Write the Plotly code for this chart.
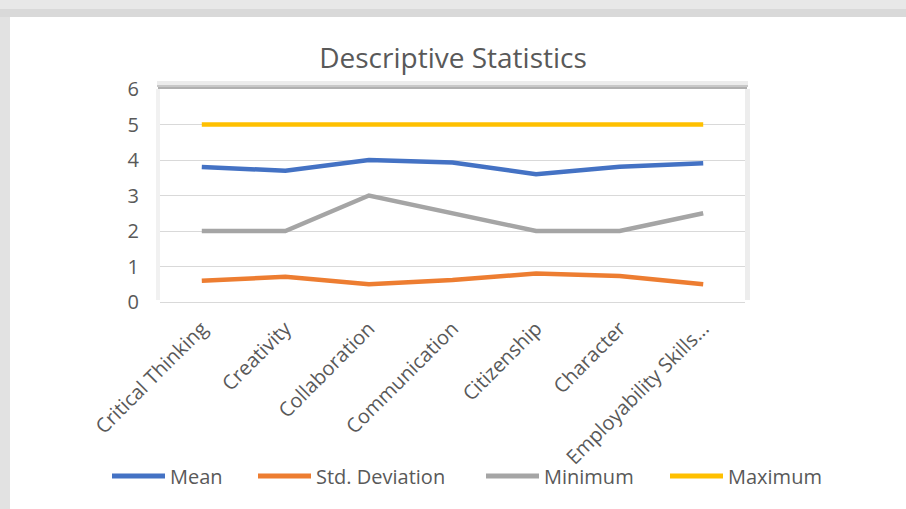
import plotly.graph_objects as go

categories = ["Critical Thinking", "Creativity", "Collaboration", "Communication",
              "Citizenship", "Character", "Employability Skills..."]
mean_vals = [3.80, 3.70, 4.00, 3.93, 3.60, 3.81, 3.91]
std_vals = [0.60, 0.71, 0.50, 0.62, 0.80, 0.73, 0.50]
min_vals = [2.0, 2.0, 3.0, 2.5, 2.0, 2.0, 2.5]
max_vals = [5.0, 5.0, 5.0, 5.0, 5.0, 5.0, 5.0]
y_ticks = [0, 1, 2, 3, 4, 5, 6]

series_names = ["Mean", "Std. Deviation", "Minimum", "Maximum"]
series_vals = [mean_vals, std_vals, min_vals, max_vals]
series_colors = ["#4472C4", "#ED7D31", "#A5A5A5", "#FFC000"]

FONT = "Open Sans"
TXT = "#595959"

W, H = 906, 509
L, R, T, B = 160, 161, 89, 207


def px_x(p):
    return (p - L) / (W - L - R)


def px_y(p):
    return (H - B - p) / (H - T - B)


fig = go.Figure()
for name, vals, col in zip(series_names, series_vals, series_colors):
    fig.add_trace(go.Scatter(x=categories, y=vals, mode="lines", name=name,
                             line=dict(color=col, width=4.5), showlegend=False))

shapes = [
    # outer frame (screenshot border)
    dict(type="rect", xref="paper", yref="paper", layer="below",
         x0=px_x(0), x1=px_x(W), y0=px_y(9), y1=px_y(0),
         fillcolor="#e8e8e8", line=dict(width=0)),
    dict(type="rect", xref="paper", yref="paper", layer="below",
         x0=px_x(0), x1=px_x(W), y0=px_y(17), y1=px_y(9),
         fillcolor="#d9d9d9", line=dict(width=0)),
    dict(type="rect", xref="paper", yref="paper", layer="below",
         x0=px_x(0), x1=px_x(10), y0=px_y(H), y1=px_y(17),
         fillcolor="#e2e2e2", line=dict(width=0)),
    # plot-area shadow (soft)
    dict(type="rect", xref="paper", yref="paper", layer="below",
         x0=px_x(157), x1=px_x(748), y0=px_y(85), y1=px_y(81),
         fillcolor="#ececec", line=dict(width=0)),
    dict(type="rect", xref="paper", yref="paper", layer="below",
         x0=px_x(157), x1=px_x(748), y0=px_y(87), y1=px_y(85),
         fillcolor="#c8c8c8", line=dict(width=0)),
    dict(type="rect", xref="paper", yref="paper", layer="below",
         x0=px_x(158), x1=px_x(747), y0=px_y(89), y1=px_y(87),
         fillcolor="#b0b0b0", line=dict(width=0)),
    dict(type="rect", xref="paper", yref="paper", layer="below",
         x0=px_x(156), x1=px_x(160), y0=px_y(300), y1=px_y(89),
         fillcolor="#f1f1f1", line=dict(width=0)),
    dict(type="rect", xref="paper", yref="paper", layer="below",
         x0=px_x(745), x1=px_x(750), y0=px_y(300), y1=px_y(89),
         fillcolor="#ededed", line=dict(width=0)),
]

annotations = []
legend_line_x = [112, 258, 486, 670]
legend_y = 476
for name, col, lx in zip(series_names, series_colors, legend_line_x):
    shapes.append(dict(type="line", xref="paper", yref="paper",
                       x0=px_x(lx), x1=px_x(lx + 53), y0=px_y(legend_y), y1=px_y(legend_y),
                       line=dict(color=col, width=5)))
    annotations.append(dict(xref="paper", yref="paper", x=px_x(lx + 56), y=px_y(legend_y),
                            xanchor="left", yanchor="middle", showarrow=False, text=name,
                            font=dict(family=FONT, size=20, color=TXT)))

fig.update_layout(
    width=W, height=H,
    margin=dict(l=L, r=R, t=T, b=B),
    paper_bgcolor="white", plot_bgcolor="white",
    font=dict(family=FONT, color=TXT, size=16),
    title=dict(text="Descriptive Statistics", x=0.5, xanchor="center",
               y=1 - 58 / H, yanchor="middle",
               font=dict(family=FONT, size=28, color=TXT)),
    xaxis=dict(type="category", range=[-0.5, len(categories) - 0.5], tickangle=-45,
               showgrid=False, showline=False, ticks="", ticklabelstandoff=10,
               tickfont=dict(size=20, color=TXT), fixedrange=True),
    yaxis=dict(range=[0, 6], tickvals=y_ticks, showgrid=True, gridcolor="#d9d9d9",
               gridwidth=1.3, zeroline=True, zerolinecolor="#d9d9d9", zerolinewidth=1.3,
               showline=False, ticks="", ticklabelstandoff=20,
               tickfont=dict(size=20, color=TXT), fixedrange=True),
    shapes=shapes,
    annotations=annotations,
    showlegend=False,
)

fig.write_html("out.html", config={"displayModeBar": False},
               post_script="document.body.style.margin='0';")
